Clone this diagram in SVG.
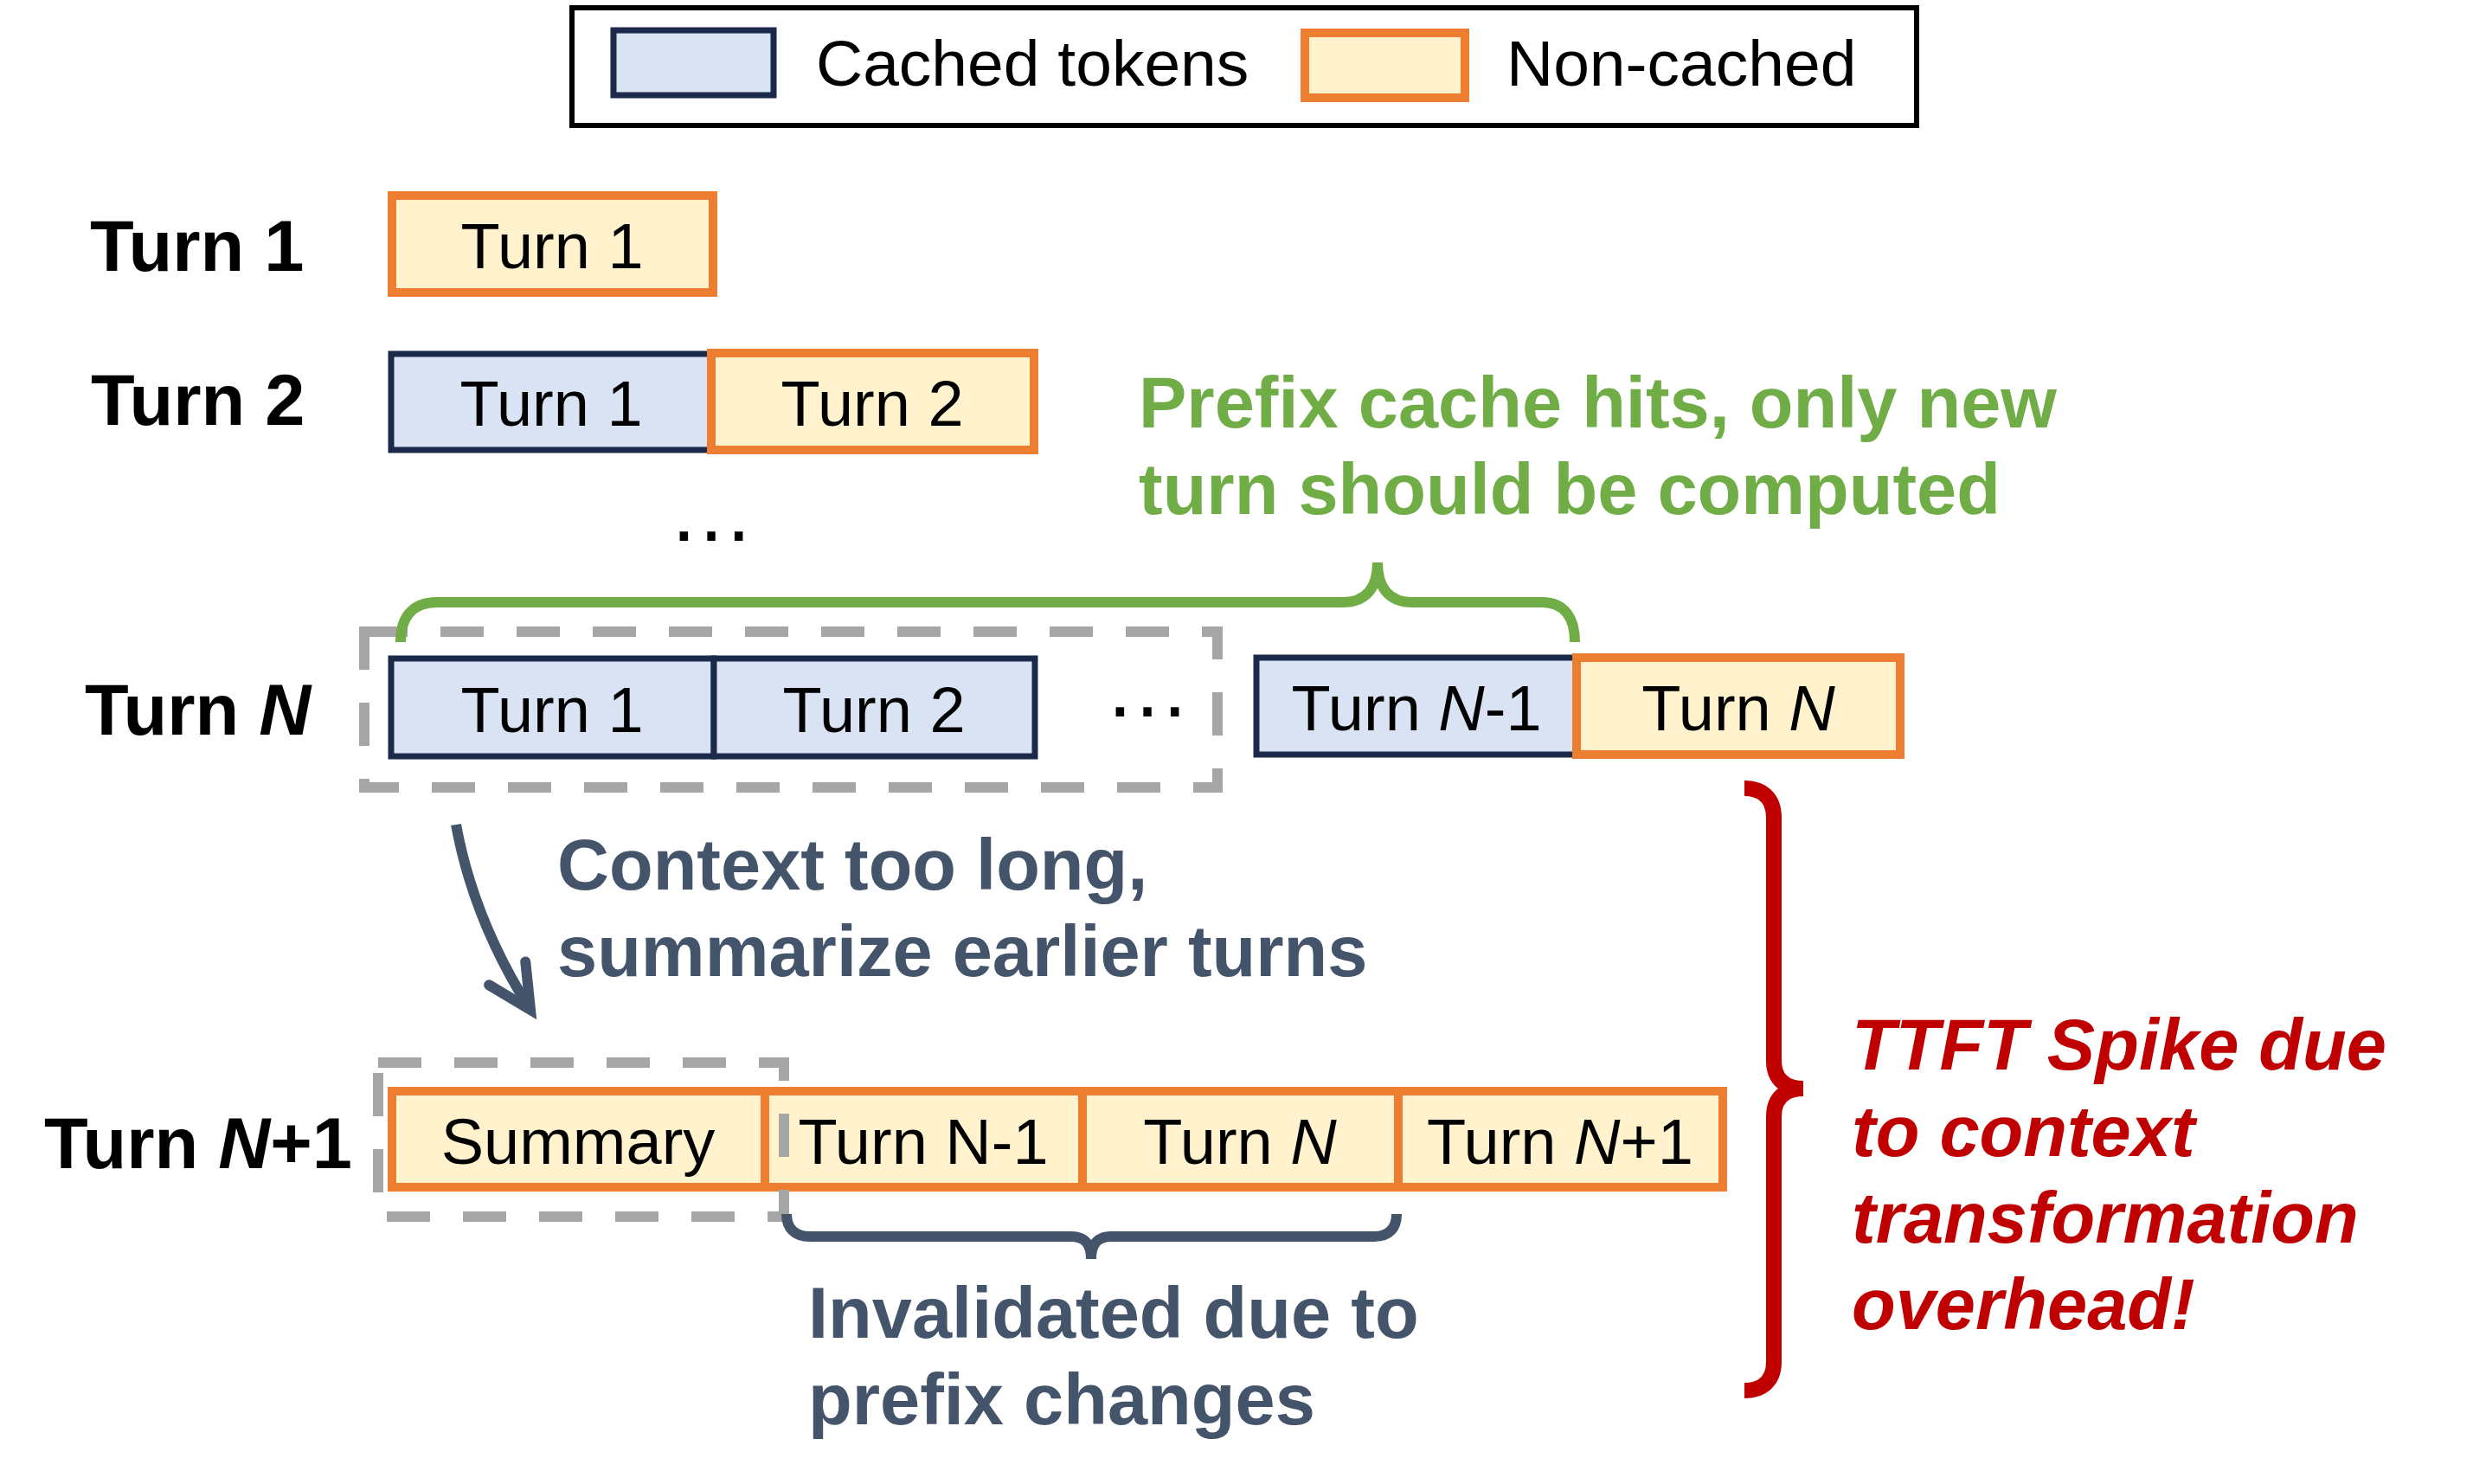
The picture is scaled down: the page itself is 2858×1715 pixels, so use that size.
<svg xmlns="http://www.w3.org/2000/svg" width="2858" height="1715" viewBox="0 0 2858 1715">
  <defs>
    <style>
      text { font-family: "Liberation Sans", Arial, sans-serif; fill: #000; }
      .cached { fill: #DAE3F3; stroke: #1B2A4A; stroke-width: 7; }
      .fresh { fill: #FFF2CC; stroke: #ED7D31; stroke-width: 10; }
      .cell { font-size: 74px; text-anchor: middle; }
      .legend-text { font-size: 75px; }
      .row-label { font-size: 83px; font-weight: bold; }
      .dots { font-size: 100px; }
      .it { font-style: italic; }
      .group-box { fill: none; stroke: #A6A6A6; stroke-width: 12; stroke-dasharray: 50 38; }
      .note { font-size: 83px; font-weight: bold; }
      .note-green { fill: #70AD47; }
      .note-slate { fill: #44546A; }
      .note-red { fill: #C00000; font-style: italic; }
      .brace { fill: none; stroke-linecap: butt; }
    </style>
    <marker id="open-head" markerUnits="userSpaceOnUse" orient="auto" overflow="visible" markerWidth="10" markerHeight="10" refX="0" refY="0">
      <path d="M-50,-25 L0,0 L-50,25" fill="none" stroke="#44546A" stroke-width="12" stroke-linecap="round" stroke-linejoin="miter"/>
    </marker>
  </defs>

  <rect width="2858" height="1715" fill="#FFFFFF"/>

  <!-- legend -->
  <g id="legend">
    <rect x="661" y="9" width="1554" height="136" fill="#FFFFFF" stroke="#000" stroke-width="6"/>
    <rect class="cached" x="709" y="35" width="185" height="75" stroke-width="6"/>
    <text class="legend-text" x="943" y="99">Cached tokens</text>
    <rect class="fresh" x="1508" y="38" width="185" height="75"/>
    <text class="legend-text" x="1741" y="99">Non-cached</text>
  </g>

  <!-- row labels -->
  <g id="row-labels">
    <text class="row-label" x="104" y="313">Turn 1</text>
    <text class="row-label" x="105" y="491">Turn 2</text>
    <text class="row-label" x="98" y="849">Turn <tspan class="it">N</tspan></text>
    <text class="row-label" x="51" y="1350">Turn <tspan class="it">N</tspan>+1</text>
  </g>

  <!-- turn 1 -->
  <g id="row1">
    <rect class="fresh" x="453" y="226" width="371" height="112"/>
    <text class="cell" x="638" y="310">Turn 1</text>
  </g>

  <!-- turn 2 -->
  <g id="row2">
    <rect class="cached" x="452" y="409" width="370" height="111"/>
    <rect class="fresh" x="822" y="408" width="373" height="112"/>
    <text class="cell" x="637" y="492">Turn 1</text>
    <text class="cell" x="1008" y="492">Turn 2</text>
  </g>

  <text id="dots-mid" class="dots" x="772" y="625">…</text>

  <!-- turn N -->
  <g id="rowN">
    <rect class="cached" x="452" y="761" width="373" height="113"/>
    <rect class="cached" x="825" y="761" width="371" height="113"/>
    <text class="cell" x="638" y="846">Turn 1</text>
    <text class="cell" x="1010" y="846">Turn 2</text>
    <text class="dots" x="1276" y="828">…</text>
    <rect class="cached" x="1452" y="760" width="370" height="112"/>
    <rect class="fresh" x="1822" y="760" width="374" height="112"/>
    <text class="cell" x="1637" y="844">Turn <tspan class="it">N</tspan>-1</text>
    <text class="cell" x="2009" y="844">Turn <tspan class="it">N</tspan></text>
    <rect class="group-box" x="421" y="730" width="986" height="180"/>
  </g>

  <!-- turn N+1 -->
  <g id="rowN1">
    <rect class="fresh" x="453" y="1261" width="431" height="111"/>
    <rect class="fresh" x="884" y="1261" width="367" height="111"/>
    <rect class="fresh" x="1251" y="1261" width="365" height="111"/>
    <rect class="fresh" x="1616" y="1261" width="375" height="111"/>
    <text class="cell" x="668" y="1345">Summary</text>
    <text class="cell" x="1067" y="1345">Turn N-1</text>
    <text class="cell" x="1433" y="1345">Turn <tspan class="it">N</tspan></text>
    <text class="cell" x="1803" y="1345">Turn <tspan class="it">N</tspan>+1</text>
    <rect class="group-box" x="437" y="1228" width="469" height="178"/>
  </g>

  <!-- annotations -->
  <g id="note-prefix-hit">
    <text class="note note-green" x="1316" y="494">Prefix cache hits, only new</text>
    <text class="note note-green" x="1316" y="594">turn should be computed</text>
  </g>
  <g id="note-summarize">
    <text class="note note-slate" x="644" y="1028">Context too long,</text>
    <text class="note note-slate" x="644" y="1128">summarize earlier turns</text>
  </g>
  <g id="note-invalidated">
    <text class="note note-slate" x="934" y="1546">Invalidated due to</text>
    <text class="note note-slate" x="934" y="1646">prefix changes</text>
  </g>
  <g id="note-ttft">
    <text class="note note-red" x="2140" y="1236">TTFT Spike due</text>
    <text class="note note-red" x="2140" y="1336">to context</text>
    <text class="note note-red" x="2140" y="1436">transformation</text>
    <text class="note note-red" x="2140" y="1536">overhead!</text>
  </g>

  <!-- connectors: summarize arrow and braces -->
  <g id="connectors">
    <path d="M527,953 C543,1040 578,1112 613,1167" fill="none" stroke="#44546A" stroke-width="12" marker-end="url(#open-head)"/>
    <path class="brace" stroke="#70AD47" stroke-width="12"
          d="M463,742 C463,714 476,696 505,696 L1552,696 C1578,696 1592,680 1592,650 M1592,650 C1592,680 1606,696 1632,696 L1782,696 C1808,696 1820,714 1820,742"/>
    <path class="brace" stroke="#44546A" stroke-width="12"
          d="M909,1403 C909,1419 918,1429 936,1429 L1238,1429 C1254,1429 1261,1438 1261,1455 M1261,1455 C1261,1438 1268,1429 1284,1429 L1588,1429 C1606,1429 1614,1419 1614,1403"/>
    <path class="brace" stroke="#C00000" stroke-width="18"
          d="M2016,911 C2036,911 2050,922 2050,945 L2050,1226 C2050,1248 2064,1258 2084,1258 M2084,1258 C2064,1258 2050,1268 2050,1290 L2050,1574 C2050,1596 2036,1607 2016,1607"/>
  </g>
</svg>
